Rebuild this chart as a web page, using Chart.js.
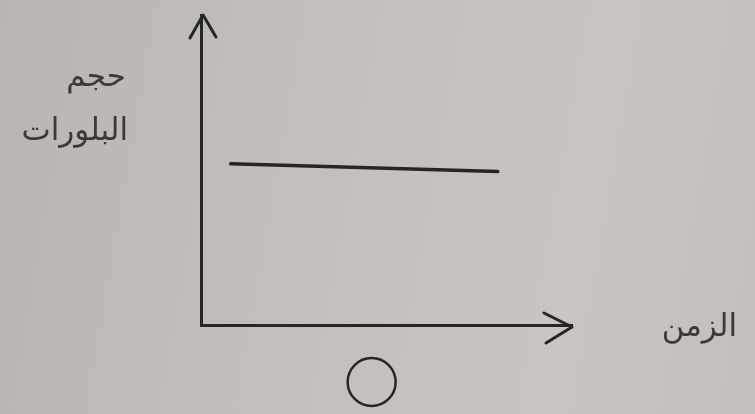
<!DOCTYPE html>
<html>
<head>
<meta charset="utf-8">
<script src="https://cdn.jsdelivr.net/npm/chart.js@4.4.0/dist/chart.umd.min.js"></script>
<style>
    html, body { margin: 0; padding: 0; }
    body {
        width: 755px;
        height: 414px;
        background: linear-gradient(100deg, #b9b6b2 0%, #c3c0bc 45%, #c9c6c2 75%, #c2bfbb 100%);
        overflow: hidden;
    }
    #grafico-wrap { position: relative; width: 755px; height: 414px; }
</style>
</head>
<body>
<div id="grafico-wrap"><canvas id="grafico"></canvas></div>
<script>
// dados da curva: tamanho dos cristais ao longo do tempo (constante)
const tempos = [0.8, 8.0];
const tamanhos = [5.2, 4.95];
const rotuloY = ["حجم", "البلورات"];
const rotuloX = "الزمن";
const posicaoCirculo = 4.6; // sob o eixo x

const corTinta = "#262626";
const corTexto = "#3a3a3a";

// setas nas pontas dos eixos, rótulos e o círculo
const pluginEsboco = {
    id: "esboco",
    afterDraw(chart) {
        const ctx = chart.ctx;
        const area = chart.chartArea;
        const x = chart.scales.x;

        ctx.save();
        ctx.strokeStyle = corTinta;
        ctx.lineWidth = 3;
        ctx.lineCap = "round";
        ctx.lineJoin = "round";

        // seta do eixo y
        ctx.beginPath();
        ctx.moveTo(area.left - 11, area.top + 23);
        ctx.lineTo(area.left + 2, area.top);
        ctx.lineTo(area.left + 15, area.top + 22);
        ctx.stroke();

        // seta do eixo x
        ctx.beginPath();
        ctx.moveTo(area.right - 28, area.bottom - 12);
        ctx.lineTo(area.right, area.bottom + 2);
        ctx.lineTo(area.right - 26, area.bottom + 18);
        ctx.stroke();

        // círculo
        ctx.lineWidth = 2.5;
        ctx.beginPath();
        ctx.arc(x.getPixelForValue(posicaoCirculo), area.bottom + 57, 24, 0, Math.PI * 2);
        ctx.stroke();

        // rótulos
        ctx.fillStyle = corTexto;
        ctx.font = "31px 'DejaVu Sans', sans-serif";
        ctx.direction = "rtl";
        ctx.textAlign = "right";
        ctx.textBaseline = "alphabetic";
        ctx.fillText(rotuloY[0], 126, 86);
        ctx.fillText(rotuloY[1], 128, 140);
        ctx.fillText(rotuloX, 737, 336);
        ctx.restore();
    }
};

const ctxGrafico = document.querySelector("#grafico");

const chart = new Chart(ctxGrafico, {
    type: "line",
    data: {
        datasets: [{
            data: tempos.map((t, i) => ({ x: t, y: tamanhos[i] })),
            borderColor: corTinta,
            borderWidth: 3.5,
            pointRadius: 0,
            borderCapStyle: "round",
            tension: 0
        }]
    },
    options: {
        responsive: true,
        maintainAspectRatio: false,
        animation: false,
        layout: {
            padding: { left: 201, right: 183, top: 15, bottom: 89 }
        },
        plugins: {
            legend: { display: false },
            tooltip: { enabled: false }
        },
        scales: {
            x: {
                type: "linear",
                min: 0,
                max: 10,
                grid: { display: false, drawTicks: false },
                ticks: { display: false },
                border: { display: true, color: corTinta, width: 3 }
            },
            y: {
                type: "linear",
                min: 0,
                max: 10,
                grid: { display: false, drawTicks: false },
                ticks: { display: false },
                border: { display: true, color: corTinta, width: 3 }
            }
        }
    },
    plugins: [pluginEsboco]
});
</script>
</body>
</html>
